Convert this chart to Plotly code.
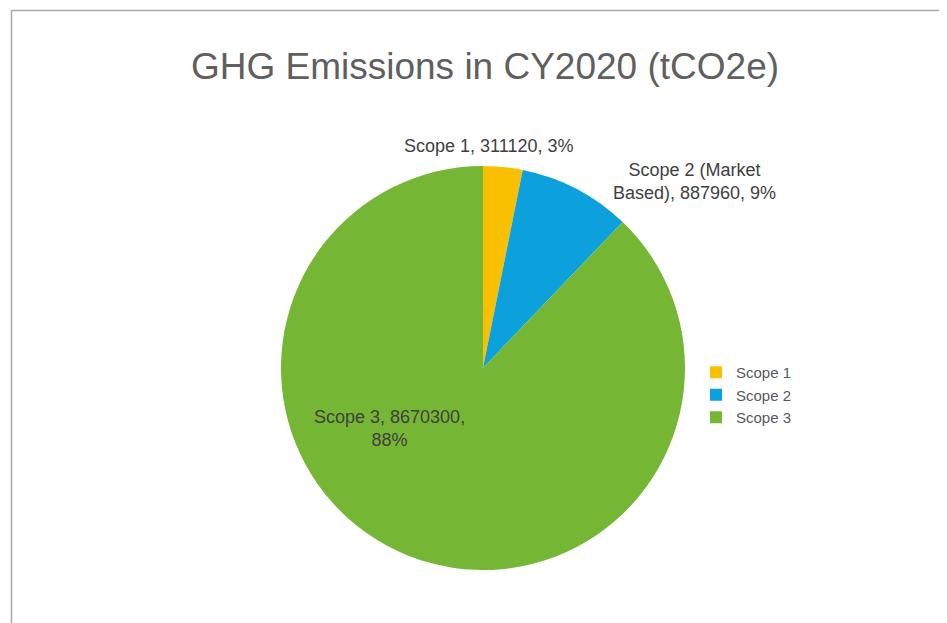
import plotly.graph_objects as go

W, H = 947, 623
OFF = 8  # page body margin offset in the browser

legend_names = ["Scope 1", "Scope 2", "Scope 3"]
label_names = ["Scope 1", "Scope 2 (Market<br>Based)", "Scope 3"]
values = [311120, 887960, 8670300]
colors = ["#F9C000", "#0CA1DC", "#75B734"]
title_text = "GHG Emissions in CY2020 (tCO2e)"

total = sum(values)
pcts = [round(v / total * 100) for v in values]
label_texts = [
    f"{label_names[0]}, {values[0]}, {pcts[0]}%",
    f"{label_names[1]}, {values[1]}, {pcts[1]}%",
    f"{label_names[2]}, {values[2]},<br>{pcts[2]}%",
]


def px_x(v):
    return (v - OFF) / W


def px_y(v):
    return (H - (v - OFF)) / H


# label anchor positions in screen pixels (x from left, y from top)
label_pos = [(489, 146), (694, 181), (389, 428)]

fig = go.Figure()
fig.add_trace(go.Pie(
    labels=legend_names,
    values=values,
    sort=False,
    direction="clockwise",
    rotation=0,
    marker=dict(colors=colors, line=dict(width=0)),
    textinfo="none",
    hoverinfo="label+value+percent",
    domain=dict(x=[px_x(281), px_x(685)], y=[px_y(570), px_y(166)]),
))

annotations = []
for t, (px, py) in zip(label_texts, label_pos):
    annotations.append(dict(
        text=t, x=px_x(px), y=px_y(py), xref="paper", yref="paper",
        xanchor="center", yanchor="middle", showarrow=False,
        font=dict(family="Liberation Sans, Arial, sans-serif", size=18, color="#404040"),
        align="center",
    ))

fig.update_layout(
    width=W, height=H,
    margin=dict(l=0, r=0, t=0, b=0),
    paper_bgcolor="white",
    plot_bgcolor="white",
    title=dict(
        text=title_text, x=px_x(485), xanchor="center",
        y=px_y(66), yanchor="middle", yref="container",
        font=dict(family="Liberation Sans, Arial, sans-serif", size=37, color="#5f5f5f"),
    ),
    legend=dict(
        x=px_x(696), y=px_y(395), xanchor="left", yanchor="middle",
        font=dict(family="Liberation Sans, Arial, sans-serif", size=15, color="#595959"),
        bgcolor="rgba(0,0,0,0)",
    ),
    annotations=annotations,
    shapes=[dict(
        type="rect", xref="paper", yref="paper",
        x0=px_x(11.5), x1=1.05, y0=-0.05, y1=px_y(10.5),
        line=dict(color="#A8A8A8", width=1.5), fillcolor="rgba(0,0,0,0)",
        layer="below",
    )],
)

fig.write_html("out.html")
